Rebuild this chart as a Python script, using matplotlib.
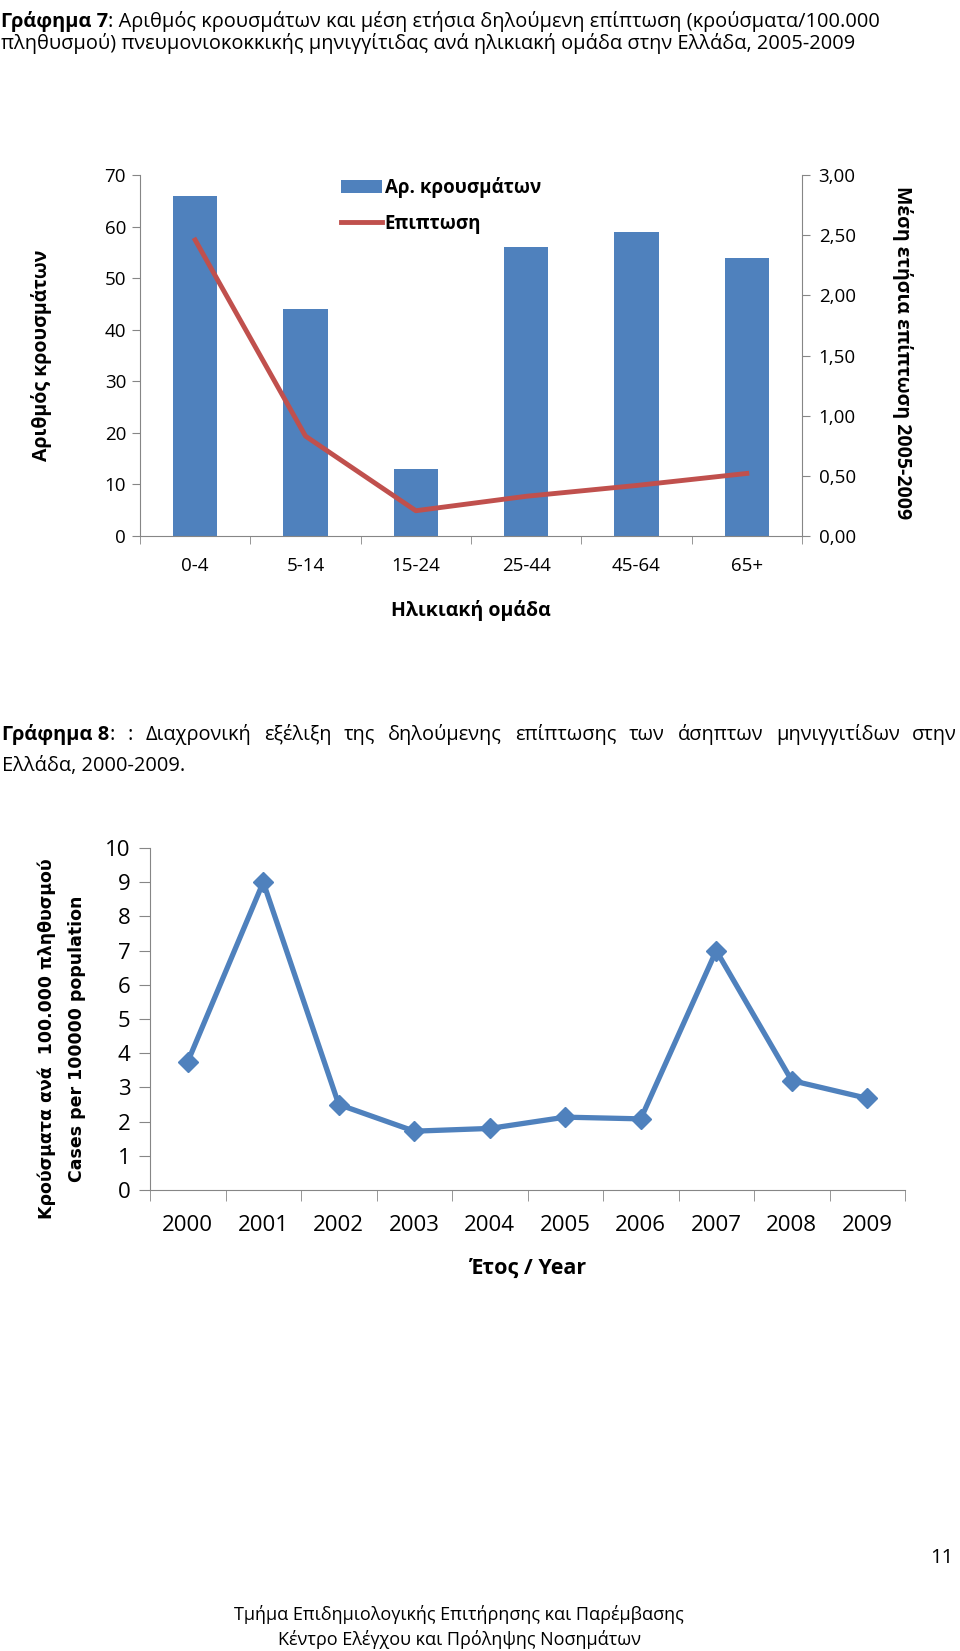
import matplotlib
matplotlib.use("Agg")
import matplotlib.pyplot as plt
from matplotlib.patches import Patch
from matplotlib.lines import Line2D
import numpy as np

plt.rcParams['font.family'] = ['Open Sans', 'DejaVu Sans']

# ---- Data chart 7 ----
age_groups = ["0-4", "5-14", "15-24", "25-44", "45-64", "65+"]
cases = [66, 44, 13, 56, 59, 54]
incidence = [2.46, 0.83, 0.21, 0.33, 0.42, 0.52]
left_ticks = [0, 10, 20, 30, 40, 50, 60, 70]
right_ticks = [0.0, 0.5, 1.0, 1.5, 2.0, 2.5, 3.0]

# ---- Data chart 8 ----
years = ["2000", "2001", "2002", "2003", "2004", "2005", "2006", "2007", "2008", "2009"]
rate = [3.75, 9.0, 2.5, 1.72, 1.8, 2.13, 2.08, 7.0, 3.2, 2.68]
rate_ticks = list(range(0, 11))

BLUE = "#4F81BD"
RED = "#C0504D"
GRAY = "#868686"

W, H = 960, 1651
fig = plt.figure(figsize=(W / 100, H / 100), dpi=100)
fig.patch.set_facecolor("white")

def fx(px):
    return px / W

def fy(py):
    return 1 - py / H

renderer = fig.canvas.get_renderer()

def mixed(x, y, parts, size):
    """parts: list of (text, weight). y is baseline in px."""
    cx = x
    for txt, wt in parts:
        t = fig.text(fx(cx), fy(y), txt, fontsize=size, fontweight=wt,
                     ha="left", va="baseline")
        bb = t.get_window_extent(renderer)
        cx += bb.width
    return cx

TS = 14.4
# ---- Title chart 7 ----
mixed(1, 27, [("Γράφημα 7", "bold"),
              (": Αριθμός κρουσμάτων και μέση ετήσια δηλούμενη επίπτωση (κρούσματα/100.000", "normal")], TS)
mixed(1, 49, [("πληθυσμού) πνευμονιοκοκκικής μηνιγγίτιδας ανά ηλικιακή ομάδα στην Ελλάδα, 2005-2009", "normal")], TS)

# ---- Chart 7 ----
ax1 = fig.add_axes([fx(140), fy(536), fx(802) - fx(140), fy(175) - fy(536)])
x = np.arange(len(age_groups))
ax1.bar(x, cases, width=0.4, color=BLUE, zorder=2)
ax1.set_xlim(-0.5, len(age_groups) - 0.5)
ax1.set_ylim(0, 70)
ax1.set_yticks(left_ticks)
ax1.set_yticklabels([str(v) for v in left_ticks], fontsize=13.5)
ax1.set_xticks(x)
ax1.set_xticklabels(age_groups, fontsize=13.5)
ax1.tick_params(axis="x", length=0, pad=15)
ax1.set_xticks(np.arange(-0.5, len(age_groups), 1.0), minor=True)
ax1.tick_params(axis="x", which="minor", length=6, color=GRAY, direction="out")
ax1.tick_params(axis="y", length=6, color=GRAY, direction="out", pad=4)
ax1.spines["top"].set_visible(False)
ax1.spines["right"].set_visible(False)
ax1.spines["left"].set_color(GRAY)
ax1.spines["bottom"].set_color(GRAY)
ax1.set_xlabel("Ηλικιακή ομάδα", fontsize=14, fontweight="bold", labelpad=18)
fig.text(fx(42), (fy(536) + fy(175)) / 2, "Αριθμός κρουσμάτων", rotation=90,
         fontsize=14, fontweight="bold", ha="center", va="center")

ax2 = ax1.twinx()
ax2.plot(x, incidence, color=RED, lw=3.5, zorder=3)
ax2.set_ylim(0, 3.0)
ax2.set_yticks(right_ticks)
ax2.set_yticklabels([f"{v:.2f}".replace(".", ",") for v in right_ticks], fontsize=13.5)
ax2.tick_params(axis="y", length=6, color=GRAY, direction="out", pad=6)
ax2.spines["top"].set_visible(False)
ax2.spines["left"].set_visible(False)
ax2.spines["bottom"].set_visible(False)
ax2.spines["right"].set_color(GRAY)
fig.text(fx(903), (fy(536) + fy(175)) / 2 + 0.002, "Μέση ετήσια επίπτωση 2005-2009",
         rotation=-90, fontsize=14, fontweight="bold", ha="center", va="center")

handles = [Patch(facecolor=BLUE, edgecolor="none"),
           Line2D([0], [0], color=RED, lw=3.5)]
leg = fig.legend(handles, ["Αρ. κρουσμάτων", "Επιπτωση"], loc="upper left",
                 bbox_to_anchor=(fx(333), fy(170)), frameon=False,
                 prop={"size": 13.5, "weight": "bold"}, handlelength=2.2,
                 handletextpad=0.15, labelspacing=0.8, borderaxespad=0)

# ---- Caption chart 8 (justified first line) ----
words = ["Διαχρονική", "εξέλιξη", "της", "δηλούμενης", "επίπτωσης", "των",
         "άσηπτων", "μηνιγγιτίδων", "στην"]
size8 = TS
lead_parts = [("Γράφημα 8", "bold"), (":", "normal")]

def measure(txt, wt):
    t = fig.text(0, 0, txt, fontsize=size8, fontweight=wt)
    w = t.get_window_extent(renderer).width
    t.remove()
    return w

lead_w = measure("Γράφημα 8", "bold") + measure(":", "normal")
items = [(":", "normal")] + [(w, "normal") for w in words]
widths = [measure(t, wt) for t, wt in items]
total = lead_w + sum(widths)
line_left, line_right = 2, 957
gap = (line_right - line_left - total) / len(items)
cx = mixed(line_left, 740, lead_parts, size8)
for (t, wt), w in zip(items, widths):
    cx += gap
    fig.text(fx(cx), fy(740), t, fontsize=size8, fontweight=wt, ha="left", va="baseline")
    cx += w
mixed(2, 771, [("Ελλάδα, 2000-2009.", "normal")], size8)

# ---- Chart 8 ----
ax3 = fig.add_axes([fx(150), fy(1190), fx(905) - fx(150), fy(848) - fy(1190)])
xx = np.arange(len(years))
ax3.plot(xx, rate, color=BLUE, lw=3.8, marker="D", markersize=10, zorder=3)
ax3.set_xlim(-0.5, len(years) - 0.5)
ax3.set_ylim(0, 10)
ax3.set_yticks(rate_ticks)
ax3.set_yticklabels([str(v) for v in rate_ticks], fontsize=16)
ax3.set_xticks(xx)
ax3.set_xticklabels(years, fontsize=16)
ax3.tick_params(axis="x", length=0, pad=18)
ax3.set_xticks(np.arange(-0.5, len(years), 1.0), minor=True)
ax3.tick_params(axis="x", which="minor", length=8, color=GRAY, direction="out")
ax3.tick_params(axis="y", length=8, color=GRAY, direction="out", pad=6)
ax3.spines["top"].set_visible(False)
ax3.spines["right"].set_visible(False)
ax3.spines["left"].set_color(GRAY)
ax3.spines["bottom"].set_color(GRAY)
ax3.set_xlabel("Έτος / Year", fontsize=15.5, fontweight="bold", labelpad=16)
ymid = (fy(1220) + fy(858)) / 2
fig.text(fx(47), ymid, "Κρούσματα ανά  100.000 πληθυσμού",
         rotation=90, fontsize=12.5, fontweight="bold", ha="center", va="center",
         family=["DejaVu Sans"])
fig.text(fx(77), ymid, "Cases per 100000 population",
         rotation=90, fontsize=12.5, fontweight="bold", ha="center", va="center",
         family=["DejaVu Sans"])

# ---- Footer ----
fig.text(fx(942), fy(1558), "11", fontsize=14.5, ha="center", va="center")
fig.text(fx(459), fy(1614), "Τμήμα Επιδημιολογικής Επιτήρησης και Παρέμβασης",
         fontsize=13, ha="center", va="center")
fig.text(fx(459), fy(1639), "Κέντρο Ελέγχου και Πρόληψης Νοσημάτων",
         fontsize=13, ha="center", va="center")

fig.savefig("out.png", dpi=100, facecolor="white")
